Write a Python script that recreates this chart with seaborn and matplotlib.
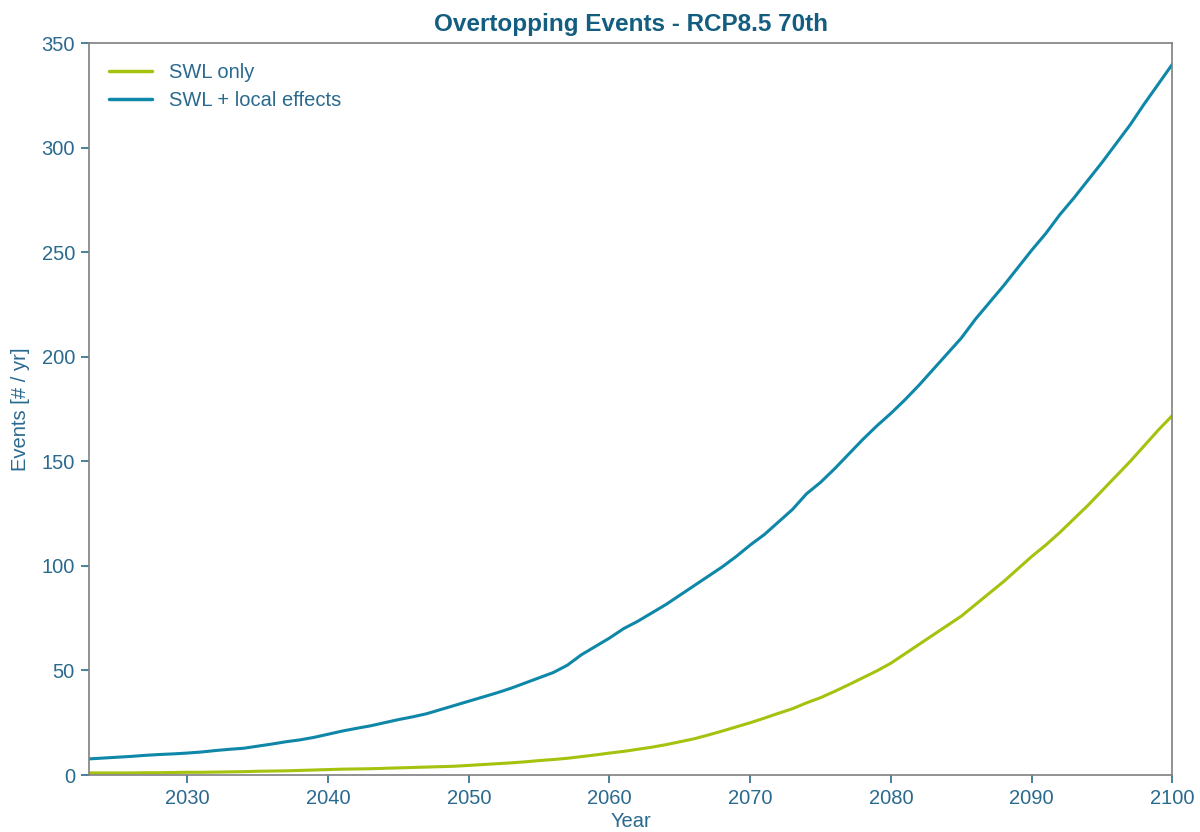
import matplotlib
matplotlib.use("Agg")
import matplotlib.pyplot as plt
import seaborn as sns
import pandas as pd
import numpy as np

years = list(range(2023, 2101))

swl_only = [
    1.0, 1.0, 1.0, 1.0, 1.1, 1.1, 1.2, 1.3, 1.3, 1.4,
    1.5, 1.6, 1.8, 1.9, 2.0, 2.2, 2.4, 2.6, 2.8, 2.9,
    3.0, 3.2, 3.4, 3.6, 3.8, 4.0, 4.2, 4.6, 5.0, 5.4,
    5.8, 6.3, 6.9, 7.4, 8.0, 8.8, 9.6, 10.5, 11.3, 12.3,
    13.3, 14.5, 15.9, 17.3, 19.1, 21.0, 23.0, 25.0, 27.2, 29.5,
    31.7, 34.5, 37.0, 40.0, 43.2, 46.5, 49.8, 53.5, 58.0, 62.5,
    67.0, 71.5, 76.0, 81.5, 87.0, 92.5, 98.5, 104.5, 110.0, 116.0,
    122.5, 129.0, 136.0, 143.0, 150.0, 157.5, 165.0, 172.0,
]

swl_local = [
    7.7, 8.1, 8.5, 8.9, 9.4, 9.8, 10.1, 10.5, 11.0, 11.7,
    12.3, 12.8, 13.8, 14.8, 15.9, 16.8, 18.0, 19.5, 21.0, 22.3,
    23.5, 25.0, 26.5, 27.8, 29.3, 31.3, 33.3, 35.3, 37.3, 39.3,
    41.5, 44.0, 46.5, 49.0, 52.5, 57.5, 61.5, 65.5, 70.0, 73.5,
    77.5, 81.5, 86.0, 90.5, 95.0, 99.5, 104.5, 110.0, 115.0, 121.0,
    127.0, 134.5, 140.0, 146.5, 153.5, 160.5, 167.0, 173.0, 179.5, 186.5,
    194.0, 201.5, 209.0, 218.0, 226.0, 234.0, 242.5, 251.0, 259.0, 268.0,
    276.0, 284.5, 293.0, 302.0, 311.0, 321.0, 330.5, 340.0,
]

series_names = ["SWL only", "SWL + local effects"]
series_colors = ["#a5c20f", "#0f87a8"]

df = pd.concat([
    pd.DataFrame({"Year": years, "Events": swl_only, "Series": series_names[0]}),
    pd.DataFrame({"Year": years, "Events": swl_local, "Series": series_names[1]}),
])

sns.set_style("white")
plt.rcParams['font.family'] = ['Liberation Sans', 'DejaVu Sans']

text_color = "#2a6a8f"
title_color = "#135d80"
fs = 14.5

fig = plt.figure(figsize=(12, 8.32), dpi=100)
ax = fig.add_axes([0.074, 0.0685, 0.903, 0.8795])

sns.lineplot(data=df, x="Year", y="Events", hue="Series",
             palette=dict(zip(series_names, series_colors)),
             linewidth=2.2, ax=ax)

ax.set_xlim(2023, 2100)
ax.set_ylim(0, 350)
ax.set_xticks([2030, 2040, 2050, 2060, 2070, 2080, 2090, 2100])
ax.set_yticks([0, 50, 100, 150, 200, 250, 300, 350])

for s in ax.spines.values():
    s.set_color("#7f7f7f")
    s.set_linewidth(1.2)

ax.tick_params(axis="both", which="major", direction="out", length=6, width=1.2,
               colors=text_color, labelsize=fs, bottom=True, left=True,
               top=False, right=False, pad=4)

ax.set_xlabel("Year", fontsize=fs, color=text_color, labelpad=3)
ax.set_ylabel("Events [# / yr]", fontsize=fs, color=text_color, labelpad=8)
ax.set_title("Overtopping Events - RCP8.5 70th", fontsize=17.5, fontweight="bold",
             color=title_color, pad=9)

leg = ax.legend(loc="upper left", frameon=False, fontsize=fs, handlelength=2.15,
                handletextpad=0.85, borderaxespad=0.6, labelspacing=0.45)
for t in leg.get_texts():
    t.set_color(text_color)
for h in leg.get_lines():
    h.set_linewidth(2.5)

fig.savefig("out.png", dpi=100, facecolor="white")
